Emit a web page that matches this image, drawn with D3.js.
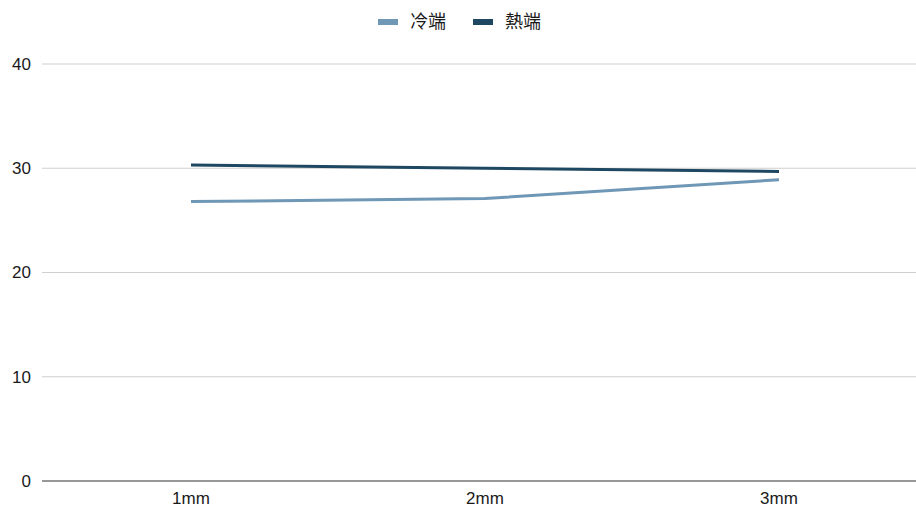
<!DOCTYPE html>
<html><head><meta charset="utf-8">
<script src="https://cdn.jsdelivr.net/npm/d3@7"></script>
<style>body{margin:0;background:#fff;} text{font-family:"Liberation Sans","Noto Sans CJK TC",Arial,sans-serif;}</style>
</head><body>
<svg id="c" width="916" height="508"></svg>
<script>
const categories = ["1mm", "2mm", "3mm"];
const coldValues = [26.8, 27.1, 28.9];
const hotValues = [30.3, 30.0, 29.7];
const seriesNames = ["冷端", "熱端"];
const yTicks = [0, 10, 20, 30, 40];

const colors = ["#6f97b6", "#1e4762"];
const series = [coldValues, hotValues];

const svg = d3.select("#c");
const x = d3.scalePoint().domain(categories).range([44, 926]).padding(0.5);
const y = d3.scaleLinear().domain([0, 40]).range([481, 64]);

svg.append("g").selectAll("line").data(yTicks.filter(d => d !== 0)).join("line")
  .attr("x1", 42).attr("x2", 916)
  .attr("y1", d => y(d)).attr("y2", d => y(d))
  .attr("stroke", "#cfcfcf").attr("stroke-width", 1);

svg.append("g").selectAll("text").data(yTicks).join("text")
  .attr("x", 31).attr("y", d => y(d)).attr("dy", "0.35em")
  .attr("text-anchor", "end").attr("font-size", 17).attr("fill", "#1a1a1a")
  .text(d => d);

svg.append("line").attr("x1", 42).attr("x2", 916).attr("y1", y(0)).attr("y2", y(0))
  .attr("stroke", "#333").attr("stroke-width", 1.2);

svg.append("g").selectAll("text").data(categories).join("text")
  .attr("x", d => x(d)).attr("y", 504)
  .attr("text-anchor", "middle").attr("font-size", 17).attr("fill", "#1a1a1a")
  .text(d => d);

const line = d3.line().x((d, i) => x(categories[i])).y(d => y(d));
series.forEach((s, k) => {
  svg.append("path").datum(s).attr("d", line)
    .attr("fill", "none").attr("stroke", colors[k]).attr("stroke-width", 3);
});

const legX = [378, 473];
seriesNames.forEach((n, k) => {
  svg.append("rect").attr("x", legX[k]).attr("y", 19).attr("width", 20).attr("height", 6)
    .attr("fill", colors[k]);
  svg.append("text").attr("x", legX[k] + 32).attr("y", 22).attr("dy", "0.35em")
    .attr("font-size", 18).attr("fill", "#1a1a1a").text(n);
});
</script>
</body></html>
